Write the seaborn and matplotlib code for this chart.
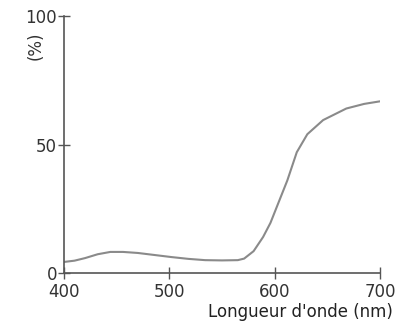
import matplotlib
matplotlib.use("Agg")
import matplotlib.pyplot as plt
import seaborn as sns
import pandas as pd

wavelength = [400, 410, 420, 432, 444, 456, 470, 486, 502, 518, 534, 550, 565, 571,
              580, 589, 596, 602, 612, 621, 631, 646, 668, 685, 700]
transmission = [4.3, 4.8, 5.8, 7.3, 8.2, 8.2, 7.8, 7.0, 6.2, 5.5, 5.0, 4.9, 5.0, 5.6,
                8.5, 14.0, 19.5, 25.7, 36.0, 47.0, 54.0, 59.5, 64.0, 65.8, 66.8]
x_ticks = [400, 500, 600, 700]
y_ticks = [0, 50, 100]

sns.set_style("white")
plt.rcParams['font.family'] = ['DejaVu Sans']

df = pd.DataFrame({"wl": wavelength, "t": transmission})

fig = plt.figure(figsize=(3.98, 3.27), dpi=100)
ax = fig.add_axes([64/398, (327-273)/327, 316/398, 257/327])
sns.lineplot(data=df, x="wl", y="t", ax=ax, color="#8a8a8a", linewidth=1.5)

ax.set_xlim(400, 700)
ax.set_ylim(0, 100)
ax.set_xticks(x_ticks)
ax.set_yticks(y_ticks)
for s in ["top", "right"]:
    ax.spines[s].set_visible(False)
for s in ["left", "bottom"]:
    ax.spines[s].set_color("#555555")
    ax.spines[s].set_linewidth(1.2)
ax.tick_params(axis="both", bottom=True, left=True, direction="inout", length=8,
               width=1.0, color="#555555", labelsize=12, labelcolor="#333333")
ax.tick_params(axis="x", pad=3)
ax.tick_params(axis="y", pad=1)

ax.set_xlabel("Longueur d'onde (nm)", fontsize=12, color="#222222", ha="right")
ax.xaxis.set_label_coords(1.04, -0.115)
ax.set_ylabel("(%)", fontsize=12, color="#333333")
ax.yaxis.set_label_coords(-0.06, 0.885)

fig.savefig("out.png", dpi=100, facecolor="white")
